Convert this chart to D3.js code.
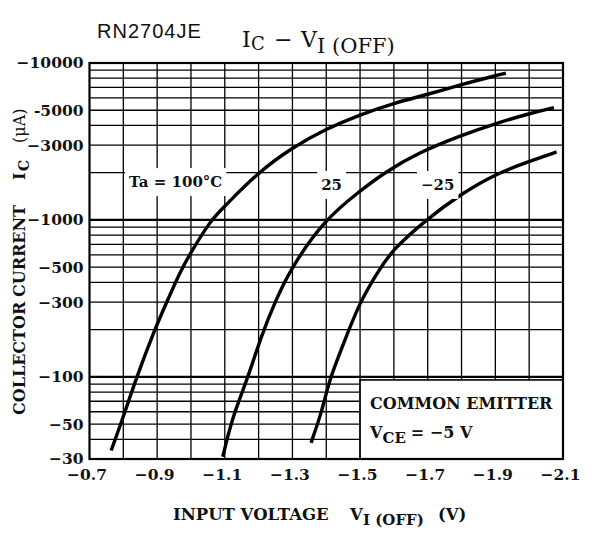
<!DOCTYPE html>
<html>
<head>
<meta charset="utf-8">
<script src="https://cdn.jsdelivr.net/npm/d3@7"></script>
<style>
  body { margin: 0; background: #fff; }
  svg text { font-family: "DejaVu Serif", serif; fill: #111; }
</style>
</head>
<body>
<svg id="chart"></svg>
<script>
// Axis ticks and labels
const vTicks = [-0.7, -0.9, -1.1, -1.3, -1.5, -1.7, -1.9, -2.1];
const vTickLabels = ["−0.7", "−0.9", "−1.1", "−1.3", "−1.5", "−1.7", "−1.9", "−2.1"];
const vGrid = [-0.8, -0.9, -1.0, -1.1, -1.2, -1.3, -1.4, -1.5, -1.6, -1.7, -1.8, -1.9, -2.0];
const iTicks = [-10000, -5000, -3000, -1000, -500, -300, -100, -50, -30];
const iTickLabels = ["−10000", "-5000", "−3000", "−1000", "−500", "−300", "−100", "−50", "−30"];
const iGrid = [-40, -50, -60, -70, -80, -90, -100, -200, -300, -400, -500, -600, -700, -800, -900,
               -1000, -2000, -3000, -4000, -5000, -6000, -7000, -8000, -9000];
const iDecades = [-100, -1000];

// Curves: input voltage (V) and collector current (uA)
const ta100V = [-0.764, -0.794, -0.838, -0.892, -0.927, -0.966, -0.995, -1.059, -1.094, -1.197, -1.3, -1.4, -1.5, -1.6, -1.7, -1.8, -1.9, -1.931];
const ta100I = [-34, -51, -98, -199, -295, -458, -598, -1000, -1186, -2000, -2900, -3810, -4690, -5560, -6300, -7300, -8300, -8600];
const ta25V = [-1.094, -1.123, -1.168, -1.207, -1.251, -1.294, -1.394, -1.497, -1.571, -1.675, -1.8, -1.9, -2.0, -2.073];
const ta25I = [-31, -56, -98, -181, -309, -487, -1000, -1514, -2000, -2700, -3466, -4117, -4760, -5200];
const taM25V = [-1.355, -1.389, -1.409, -1.448, -1.497, -1.556, -1.596, -1.694, -1.8, -1.9, -2.0, -2.081];
const taM25I = [-38, -62, -96, -156, -295, -481, -645, -1000, -1471, -1960, -2364, -2711];

const curveLabels = [
  { text: "Ta = 100°C", v: -0.817, i: -1620 },
  { text: "25", v: -1.385, i: -1553 },
  { text: "−25", v: -1.680, i: -1553 }
];

const width = 599, height = 551;
const margin = { top: 63, right: 36, bottom: 92, left: 89.5 };

const svg = d3.select("#chart")
  .attr("width", width)
  .attr("height", height);

svg.append("rect").attr("width", width).attr("height", height).attr("fill", "#fff");

const x = d3.scaleLinear()
  .domain([-0.7, -2.1])
  .range([margin.left, width - margin.right]);

const y = d3.scaleLog()
  .domain([-30, -10000])
  .range([height - margin.bottom, margin.top]);

// Grid
svg.append("g").selectAll("line")
  .data(vGrid)
  .enter().append("line")
  .attr("x1", d => x(d)).attr("x2", d => x(d))
  .attr("y1", y(-30)).attr("y2", y(-10000))
  .attr("stroke", "#000").attr("stroke-width", 1.3);

svg.append("g").selectAll("line")
  .data(iGrid)
  .enter().append("line")
  .attr("x1", x(-0.7)).attr("x2", x(-2.1))
  .attr("y1", d => y(d)).attr("y2", d => y(d))
  .attr("stroke", "#000")
  .attr("stroke-width", d => iDecades.includes(d) ? 2.2 : 1.3);

// Curves
const line = d3.line()
  .x(d => x(d[0]))
  .y(d => y(d[1]))
  .curve(d3.curveBasis);

[[ta100V, ta100I], [ta25V, ta25I], [taM25V, taM25I]].forEach(([vs, is]) => {
  svg.append("path")
    .datum(vs.map((v, k) => [v, is[k]]))
    .attr("d", line)
    .attr("fill", "none")
    .attr("stroke", "#000")
    .attr("stroke-width", 3.4);
});

// Curve labels on white patches
curveLabels.forEach(c => {
  const g = svg.append("g");
  const t = g.append("text")
    .attr("x", x(c.v))
    .attr("y", y(c.i))
    .attr("font-size", 15)
    .attr("font-weight", "bold")
    .text(c.text);
  const b = t.node().getBBox();
  g.insert("rect", "text")
    .attr("x", b.x - 4).attr("y", b.y - 5)
    .attr("width", b.width + 8).attr("height", b.height + 10)
    .attr("fill", "#fff");
});

// Legend box
const boxX = x(-1.5), boxY = y(-100) + 3;
svg.append("rect")
  .attr("x", boxX).attr("y", boxY)
  .attr("width", x(-2.1) - boxX).attr("height", y(-30) - boxY)
  .attr("fill", "#fff").attr("stroke", "#000").attr("stroke-width", 1.6);

svg.append("text")
  .attr("x", boxX + 10).attr("y", boxY + 29)
  .attr("font-size", 16).attr("font-weight", "bold")
  .text("COMMON EMITTER");

const vce = svg.append("text")
  .attr("x", boxX + 10).attr("y", boxY + 58)
  .attr("font-size", 16).attr("font-weight", "bold");
vce.append("tspan").text("V");
vce.append("tspan").attr("dy", 5).attr("font-size", 15).text("CE");
vce.append("tspan").attr("dy", -5).attr("dx", 5).text("= −5 V");

// Plot border
svg.append("rect")
  .attr("x", x(-0.7)).attr("y", y(-10000))
  .attr("width", x(-2.1) - x(-0.7)).attr("height", y(-30) - y(-10000))
  .attr("fill", "none").attr("stroke", "#000").attr("stroke-width", 2.2);

// Axes
const yAxis = svg.append("g")
  .attr("transform", "translate(" + margin.left + ",0)")
  .call(d3.axisLeft(y).tickValues(iTicks).tickFormat((d, k) => iTickLabels[k]).tickSize(0).tickPadding(6));
yAxis.select(".domain").remove();
yAxis.selectAll("text")
  .attr("font-family", "DejaVu Serif, serif")
  .attr("font-size", 15.5).attr("font-weight", "bold").attr("fill", "#111");

const xAxis = svg.append("g")
  .attr("transform", "translate(0," + (height - margin.bottom) + ")")
  .call(d3.axisBottom(x).tickValues(vTicks).tickFormat((d, k) => vTickLabels[k]).tickSize(0).tickPadding(10));
xAxis.select(".domain").remove();
xAxis.selectAll("text")
  .attr("dx", -3)
  .attr("font-family", "DejaVu Serif, serif")
  .attr("font-size", 15.5).attr("font-weight", "bold").attr("fill", "#111");

// Titles
svg.append("text")
  .attr("x", 97).attr("y", 38)
  .style("font-family", "'Liberation Sans', Arial, sans-serif")
  .attr("font-size", 20).attr("letter-spacing", 1)
  .attr("fill", "#1c1c1c")
  .text("RN2704JE");

const title = svg.append("g").attr("font-size", 22);
title.append("text").attr("x", 242).attr("y", 47).text("I");
title.append("text").attr("x", 251).attr("y", 50).attr("font-size", 18).text("C");
title.append("text").attr("x", 274).attr("y", 47).text("−");
title.append("text").attr("x", 301).attr("y", 47).text("V");
title.append("text").attr("x", 317).attr("y", 53).attr("font-size", 21).text("I (OFF)");

const xTitle = svg.append("g").attr("font-size", 16.5).attr("font-weight", "bold");
xTitle.append("text").attr("x", 173).attr("y", 520).text("INPUT VOLTAGE");
xTitle.append("text").attr("x", 350).attr("y", 520).text("V");
xTitle.append("text").attr("x", 363).attr("y", 525).attr("font-size", 15).text("I (OFF)");
xTitle.append("text").attr("x", 438).attr("y", 520).text("(V)");

const yTitle = svg.append("g")
  .attr("transform", "translate(25,0) rotate(-90)")
  .attr("font-size", 16).attr("font-weight", "bold");
yTitle.append("text").attr("x", -415).attr("y", 0).text("COLLECTOR");
yTitle.append("text").attr("x", -297).attr("y", 0).text("CURRENT");
yTitle.append("text").attr("x", -180).attr("y", 0).text("I");
yTitle.append("text").attr("x", -171).attr("y", 4).attr("font-size", 14).text("C");
yTitle.append("text").attr("x", -143).attr("y", 0).attr("font-weight", "normal").text("(μA)");
</script>
</body>
</html>
